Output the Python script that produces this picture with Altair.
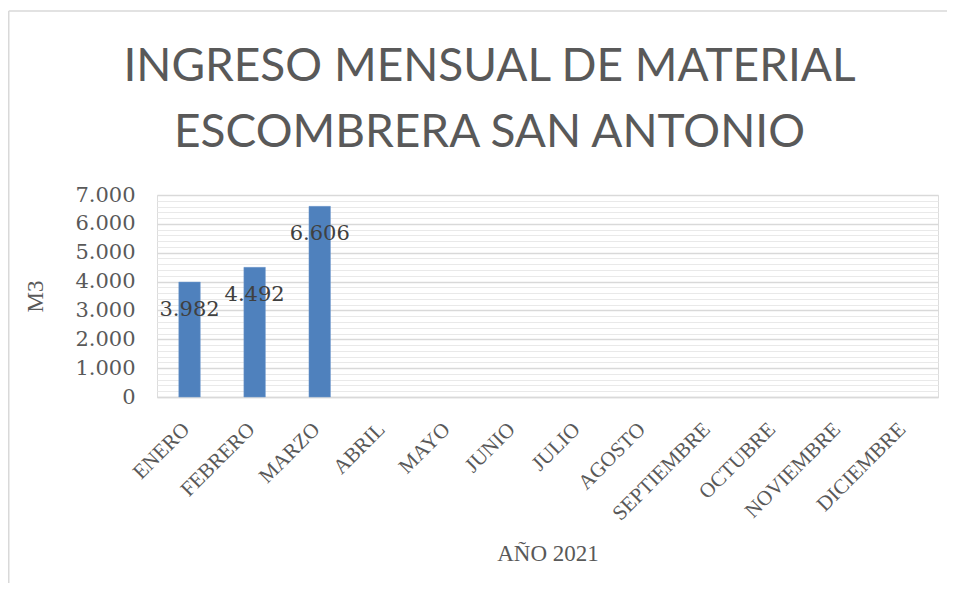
import altair as alt
import pandas as pd

months = ["ENERO", "FEBRERO", "MARZO", "ABRIL", "MAYO", "JUNIO", "JULIO",
          "AGOSTO", "SEPTIEMBRE", "OCTUBRE", "NOVIEMBRE", "DICIEMBRE"]
values = [3982, 4492, 6606, None, None, None, None, None, None, None, None, None]
y_ticks = list(range(0, 7001, 200))

title_lines = ["INGRESO MENSUAL DE MATERIAL", "ESCOMBRERA SAN ANTONIO"]

df = pd.DataFrame({"mes": months, "m3": values})

W, H = 781, 202
PAD_L, PAD_T, PAD_R, PAD_B = 149, 187, 9, 186

x_enc = alt.X(
    "mes:N", sort=months, title="AÑO 2021",
    scale=alt.Scale(paddingInner=0.67, paddingOuter=0.335),
    axis=alt.Axis(
        labelAngle=315, labelAlign="right", labelBaseline="middle",
        labelFont="Liberation Serif", labelFontSize=21, labelColor="#595959",
        labelPadding=29, labelOffset=-3, ticks=False, domainColor="#d9d9d9", domainWidth=1.5,
        titleFont="Liberation Serif", titleFontSize=23, titleFontWeight="normal",
        titleColor="#595959", titleBaseline="middle", titleY=156,
        labelOverlap=False, grid=False,
    ),
)

y_enc = alt.Y(
    "m3:Q", title="M3",
    scale=alt.Scale(domain=[0, 7000], nice=False),
    axis=alt.Axis(
        values=y_ticks, domain=False, ticks=False,
        labelExpr="datum.value % 1000 === 0 ? replace(format(datum.value, ','), ',', '.') : ''",
        labelFont="DejaVu Serif", labelFontSize=21, labelColor="#595959",
        labelPadding=22, labelOverlap=False,
        gridColor=alt.condition("datum.value % 1000 === 0", alt.value("#d9d9d9"), alt.value("#e9e9e9")),
        gridWidth=alt.condition("datum.value % 1000 === 0", alt.value(1.5), alt.value(1)),
        titleFont="Liberation Serif", titleFontSize=23, titleFontWeight="normal",
        titleColor="#595959", titleX=-122, titleBaseline="middle",
    ),
)

base = alt.Chart(df)

bars = base.mark_bar(color="#4F81BD", stroke="#6f99cc", strokeWidth=0.5).encode(x=x_enc, y=y_enc)

labels = base.transform_filter("isValid(datum.m3)").transform_calculate(
    lab="replace(format(datum.m3, ','), ',', '.')"
).mark_text(
    font="DejaVu Serif", fontSize=21, color="#404040", baseline="middle", align="center", dy=28
).encode(x=x_enc, y=y_enc, text="lab:N")

one = pd.DataFrame({"k": [0]})
frame_top = alt.Chart(one).mark_rule(color="#d9d9d9", strokeWidth=1.5).encode(
    x=alt.value(-PAD_L + 0.75), x2=alt.value(W + PAD_R), y=alt.value(-184)
)
frame_left = alt.Chart(one).mark_rule(color="#d9d9d9", strokeWidth=1.5).encode(
    x=alt.value(-PAD_L + 0.75), y=alt.value(-184), y2=alt.value(H + PAD_B)
)

chart = alt.layer(frame_top, frame_left, bars, labels).properties(
    width=W, height=H,
    title=alt.TitleParams(
        text=title_lines, font="Lato", fontSize=46, fontWeight="normal",
        color="#595959", lineHeight=66, anchor="middle", offset=-147, dx=-58,
    ),
    autosize=alt.AutoSizeParams(type="none"),
    padding={"left": PAD_L, "top": PAD_T, "right": PAD_R, "bottom": PAD_B},
).configure_view(strokeWidth=0).configure(background="white")

chart.save("out.html", embed_options={"renderer": "svg", "actions": False})
